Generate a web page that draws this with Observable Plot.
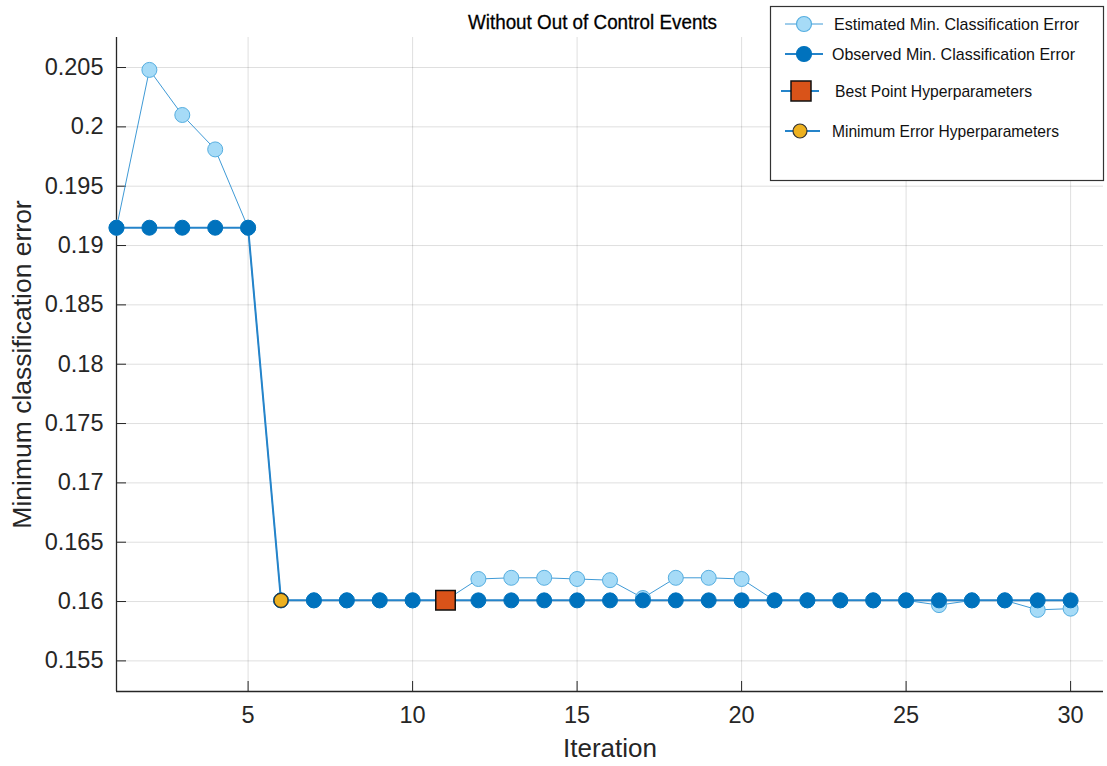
<!DOCTYPE html>
<html>
<head>
<meta charset="utf-8">
<script src="https://cdn.jsdelivr.net/npm/d3@7"></script>
<script src="https://cdn.jsdelivr.net/npm/@observablehq/plot@0.6"></script>
<style>
  html, body { margin: 0; padding: 0; background: #fff; }
  #wrap { position: relative; width: 1107px; height: 766px; }
  #wrap > svg { position: absolute; left: 0; top: 0; }
  .narrow { font-family: "Liberation Sans", Arial, sans-serif; }
</style>
</head>
<body>
<div id="wrap"></div>
<script>
const iterations = d3.range(1, 31);
const estimated = [0.1915, 0.2048, 0.2010, 0.1981, 0.1915,
  0.1601, 0.1601, 0.1601, 0.1601, 0.1601,
  0.1601, 0.1619, 0.1620, 0.1620, 0.1619,
  0.1618, 0.1603, 0.1620, 0.1620, 0.1619,
  0.1601, 0.1601, 0.1601, 0.1601, 0.1601,
  0.1597, 0.1601, 0.1601, 0.1593, 0.1594];
const observed = [0.1915, 0.1915, 0.1915, 0.1915, 0.1915,
  0.1601, 0.1601, 0.1601, 0.1601, 0.1601,
  0.1601, 0.1601, 0.1601, 0.1601, 0.1601,
  0.1601, 0.1601, 0.1601, 0.1601, 0.1601,
  0.1601, 0.1601, 0.1601, 0.1601, 0.1601,
  0.1601, 0.1601, 0.1601, 0.1601, 0.1601];
const bestPoint = [{x: 11, y: 0.1601}];
const minErrorPoint = [{x: 6, y: 0.1601}];
const xTicks = [5, 10, 15, 20, 25, 30];
const yTicks = [0.155, 0.16, 0.165, 0.17, 0.175, 0.18, 0.185, 0.19, 0.195, 0.2, 0.205];
const xDomain = [1, 31];
const yDomain = [0.15242, 0.20753];
const titleText = "Without Out of Control Events";
const xLabel = "Iteration";
const yLabel = "Minimum classification error";
const legendNames = ["Estimated Min. Classification Error", "Observed Min. Classification Error",
  "Best Point Hyperparameters", "Minimum Error Hyperparameters"];

const estData = iterations.map((x, i) => ({x, y: estimated[i]}));
const obsData = iterations.map((x, i) => ({x, y: observed[i]}));

const C = {est: "#a6dbf7", estStroke: "#56aee0", estLine: "#3f9ad6",
  obs: "#0072bd", obsLine: "#2584ca", best: "#d95319", minE: "#edb120", axis: "#262626"};

const chart = Plot.plot({
  width: 1107, height: 766,
  marginLeft: 116, marginRight: 4, marginTop: 37, marginBottom: 75,
  style: {fontFamily: "'Liberation Sans', Arial, sans-serif", background: "#fff", color: C.axis},
  x: {domain: xDomain},
  y: {domain: yDomain},
  marks: [
    Plot.gridX(xTicks, {stroke: "#000", strokeOpacity: 0.13}),
    Plot.gridY(yTicks, {stroke: "#000", strokeOpacity: 0.13}),
    Plot.axisX(xTicks, {tickSize: 0, tickPadding: 15, fontSize: 23.5, label: null, fill: C.axis}),
    Plot.axisX(xTicks, {tickSize: 10, dy: -10, text: null, stroke: C.axis, label: null}),
    Plot.axisY(yTicks, {tickSize: 0, tickPadding: 13, fontSize: 23.5, label: null, fill: C.axis, tickFormat: d => String(+d.toFixed(3))}),
    Plot.axisY(yTicks, {tickSize: 10, dx: 10, text: null, stroke: C.axis, label: null}),
    Plot.ruleX([xDomain[0]], {stroke: C.axis, strokeWidth: 1.3}),
    Plot.ruleY([yDomain[0]], {stroke: C.axis, strokeWidth: 1.3}),
    Plot.line(estData, {x: "x", y: "y", stroke: C.estLine, strokeWidth: 1}),
    Plot.dot(estData, {x: "x", y: "y", r: 7.5, fill: C.est, stroke: C.estStroke, strokeWidth: 1}),
    Plot.line(obsData, {x: "x", y: "y", stroke: C.obsLine, strokeWidth: 2}),
    Plot.dot(obsData, {x: "x", y: "y", r: 7.5, fill: C.obs, stroke: C.obs, strokeWidth: 1}),
    Plot.dot(minErrorPoint, {x: "x", y: "y", r: 7, fill: C.minE, stroke: "#333", strokeWidth: 1.2}),
    Plot.dot(bestPoint, {x: "x", y: "y", symbol: "square", r: 11, fill: C.best, stroke: "#111", strokeWidth: 1.5}),
    Plot.text([xLabel], {frameAnchor: "bottom", dy: 65, fontSize: 26, fill: C.axis}),
    Plot.text([yLabel], {frameAnchor: "left", dx: -94, textAnchor: "middle", rotate: -90, fontSize: 26.5, fill: C.axis})
  ]
});
document.getElementById("wrap").appendChild(chart);

// Title + legend overlay
const lg = d3.select("#wrap").append("svg").attr("width", 1107).attr("height", 766)
  .style("pointer-events", "none");
lg.append("text").attr("class", "narrow").attr("x", 592.5).attr("y", 22).attr("dy", "0.35em")
  .attr("text-anchor", "middle").attr("font-size", 20).attr("fill", "#000")
  .attr("stroke", "#000").attr("stroke-width", 0.3)
  .attr("textLength", 249).attr("lengthAdjust", "spacingAndGlyphs").text(titleText);

lg.append("rect").attr("x", 770.5).attr("y", 6.5).attr("width", 333).attr("height", 174)
  .attr("fill", "#fff").attr("stroke", "#333").attr("stroke-width", 1.2);
const rows = [
  {y: 24, x0: 785, x1: 823, cx: 804, tx: 834, w: 245, line: C.estLine, lw: 1, shape: "c", fill: C.est, stroke: C.estStroke, r: 7.5},
  {y: 54, x0: 785, x1: 823, cx: 804, tx: 832, w: 243, line: C.obsLine, lw: 2, shape: "c", fill: C.obs, stroke: C.obs, r: 7.5},
  {y: 91, x0: 781, x1: 819, cx: 801, tx: 835, w: 197, line: C.obsLine, lw: 2, shape: "s", fill: C.best, stroke: "#111", r: 10},
  {y: 131, x0: 785, x1: 820, cx: 800, tx: 832, w: 227, line: C.obsLine, lw: 2, shape: "c", fill: C.minE, stroke: "#333", r: 7}
];
rows.forEach((r, i) => {
  const g = lg.append("g");
  g.append("line").attr("x1", r.x0).attr("x2", r.x1).attr("y1", r.y).attr("y2", r.y)
    .attr("stroke", r.line).attr("stroke-width", r.lw);
  if (r.shape === "c") {
    g.append("circle").attr("cx", r.cx).attr("cy", r.y).attr("r", r.r)
      .attr("fill", r.fill).attr("stroke", r.stroke).attr("stroke-width", 1.2);
  } else {
    g.append("rect").attr("x", r.cx - r.r).attr("y", r.y - r.r).attr("width", 2 * r.r).attr("height", 2 * r.r)
      .attr("fill", r.fill).attr("stroke", r.stroke).attr("stroke-width", 1.5);
  }
  g.append("text").attr("class", "narrow").attr("x", r.tx).attr("y", r.y).attr("dy", "0.35em")
    .attr("font-size", 17).attr("fill", "#111")
    .attr("textLength", r.w).attr("lengthAdjust", "spacingAndGlyphs").text(legendNames[i]);
});
</script>
</body>
</html>
